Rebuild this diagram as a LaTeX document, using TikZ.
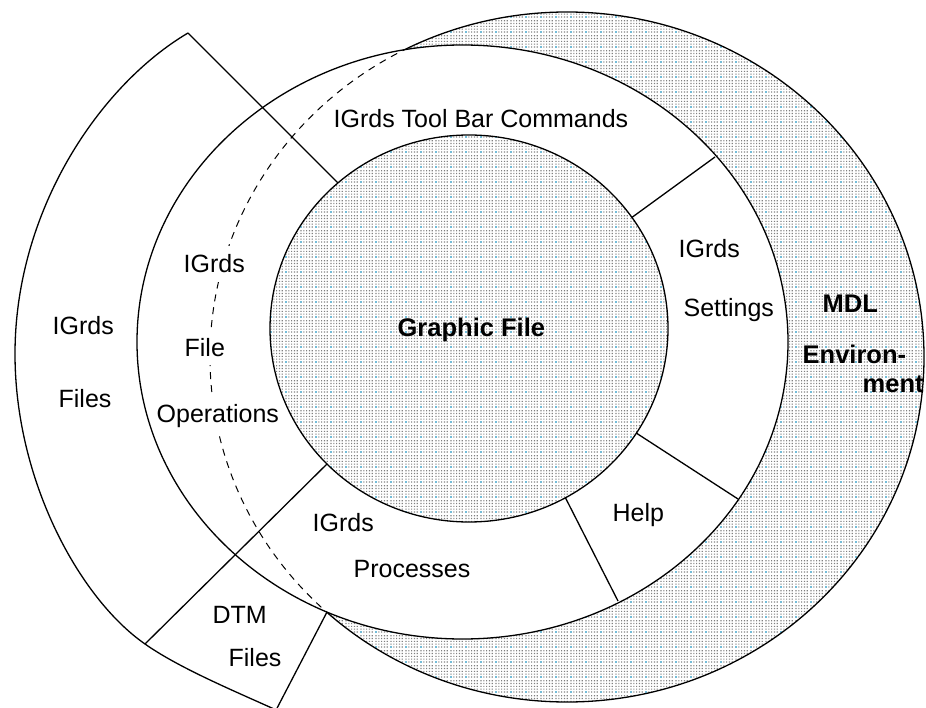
\documentclass[tikz,border=0pt]{standalone}
\usepackage{fontspec}
\setmainfont{Liberation Sans}
\usetikzlibrary{patterns}
\pgfdeclarepatterninherentlycolored{mdots}{\pgfpointorigin}{\pgfqpoint{15pt}{15pt}}{\pgfqpoint{15pt}{15pt}}{%
  \pgfsetfillcolor{black!50}%
  \foreach \i in {0,1,2,3,4}{\foreach \j in {0,1,2,3,4}{%
    \pgfpathrectangle{\pgfpoint{\i*3pt+0.5pt}{\j*3pt+0.5pt}}{\pgfqpoint{1.2pt}{1.2pt}}\pgfusepath{fill}}}%
  \pgfsetfillcolor{cyan}%
  \pgfpathrectangle{\pgfqpoint{0.5pt}{0.5pt}}{\pgfqpoint{1.2pt}{1.2pt}}\pgfusepath{fill}%
}
\begin{document}
\begin{tikzpicture}[x=1pt,y=-1pt,line width=1.3pt,
  lbl/.style={font=\fontsize{25}{28}\selectfont,inner sep=0pt,anchor=base west},
  masked/.style={fill=white,inner ysep=9pt},
  blbl/.style={font=\fontsize{25.5}{28}\selectfont\bfseries,inner sep=0pt,anchor=base west},
  dotfill/.style={pattern=mdots},
  hidden/.style={line width=1pt,dash pattern=on 7pt off 6pt}]
\useasboundingbox (0,0) rectangle (926,708);
% MDL environment (outer ellipse)
\fill[white] (567,357) ellipse [x radius=357pt, y radius=345pt];
\draw[dotfill] (567,357) ellipse [x radius=357pt, y radius=345pt];
% middle ring
\draw[fill=white] (462.5,342) ellipse [x radius=325.5pt, y radius=297pt];
\begin{scope}
  \clip (462.5,342) ellipse [x radius=325.5pt, y radius=297pt];
  \draw[hidden] (567,357) ellipse [x radius=357pt, y radius=345pt];
\end{scope}
% dividers
\draw (188,33) -- (343,188);
\draw (145,644) -- (331,460);
\draw (327,612) -- (274,714);
\draw (627,221) -- (715,157);
\draw (630,429) -- (738,499);
\draw (563,493) -- (618,601);
% Graphic file (inner)
\fill[white] (469,328.5) ellipse [x radius=199pt, y radius=193.5pt];
\draw[dotfill] (469,328.5) ellipse [x radius=199pt, y radius=193.5pt];
% IGrds Files outer arc
\draw (188,33) .. controls (100,85) and (15,210) .. (15,354)
      .. controls (15,480) and (79,598) .. (145,644)
      .. controls (182,670) and (244,695) .. (285,714);
% labels
\node[lbl] (tb) at (333,128) {IGrds Tool Bar Commands};
\node[lbl,masked] (fo1) at (183,273) {IGrds};
\node[lbl,masked] (fo2) at (184,356) {File};
\node[lbl,masked] (fo3) at (156,422) {Operations};
\node[lbl] (if1) at (52,335) {IGrds};
\node[lbl] (if2) at (58,407) {Files};
\node[lbl] (dt1) at (212,623) {DTM};
\node[lbl] (dt2) at (228,666) {Files};
\node[lbl] (pr1) at (312,531) {IGrds};
\node[lbl] (pr2) at (353,577) {Processes};
\node[lbl] (hp) at (612,521) {Help};
\node[lbl] (st1) at (678,258) {IGrds};
\node[lbl] (st2) at (683,317) {Settings};
\node[blbl] (gf) at (397,337) {Graphic File};
\node[blbl] (md1) at (822,313) {MDL};
\node[blbl] (md2) at (802,363) {Environ-};
\node[blbl] (md3) at (862,392) {ment};
\end{tikzpicture}
\end{document}
